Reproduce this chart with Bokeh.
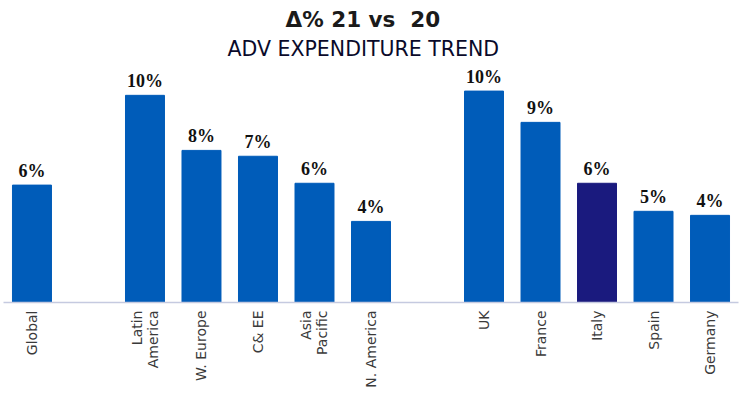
from bokeh.plotting import figure
from bokeh.models import ColumnDataSource, LabelSet, Range1d, FixedTicker, Title
from bokeh.embed import file_html
from bokeh.resources import INLINE

# categories ("" = empty gap slot)
categories = ["Global", "", "Latin\nAmerica", "W. Europe", "C& EE", "Asia\nPacific",
              "N. America", "", "UK", "France", "Italy", "Spain", "Germany"]
values = [5.82, None, 10.27, 7.54, 7.25, 5.91, 4.02, None, 10.48, 8.93, 5.91, 4.52, 4.32]
highlight = "Italy"

BLUE = "#005CB9"
NAVY = "#1A1A7E"

xs, ys, cols, labs = [], [], [], []
for i, (c, v) in enumerate(zip(categories, values)):
    if c == "" or v is None:
        continue
    xs.append(i)
    ys.append(v)
    cols.append(NAVY if c == highlight else BLUE)
    labs.append(f"{v:.0f}%")

src = ColumnDataSource(dict(x=xs, top=ys, color=cols, label=labs))

p = figure(width=745, height=397, output_backend="svg", toolbar_location=None,
           x_range=Range1d(-0.504, 12.504), y_range=Range1d(0, 11.6),
           min_border_left=3, min_border_right=7, min_border_top=68, min_border_bottom=95)

p.vbar(x="x", top="top", width=0.69, color="color", source=src)

labels = LabelSet(x="x", y="top", text="label", source=src, text_align="center",
                  text_baseline="alphabetic", y_offset=8,
                  text_font="Liberation Serif", text_font_style="bold",
                  text_font_size="18px", text_color="#111111")
p.add_layout(labels)

p.add_layout(Title(text="ADV EXPENDITURE TREND", align="left", offset=224,
                   text_font="DejaVu Sans", text_font_style="normal",
                   text_font_size="20.5px", text_color="#0A0A2A", standoff=16,
                   text_line_height=1.0), "above")
p.add_layout(Title(text="Δ% 21 vs\u00a0 20", align="left", offset=282,
                   text_font="DejaVu Sans", text_font_style="bold",
                   text_font_size="21.5px", text_color="#1A1A1A", standoff=-10,
                   text_line_height=1.0), "above")

p.xaxis.ticker = FixedTicker(ticks=xs)
p.xaxis.major_label_overrides = {i: c for i, c in enumerate(categories) if c}
p.xaxis.major_label_orientation = 1.5708
p.xaxis.major_label_text_font = "DejaVu Sans"
p.xaxis.major_label_text_font_size = "14px"
p.xaxis.major_label_text_color = "#3A3A3A"
p.xaxis.major_label_text_line_height = 1.0
p.xaxis.major_label_standoff = 2
p.xaxis.major_tick_line_color = None
p.xaxis.minor_tick_line_color = None
p.xaxis.axis_line_color = "#C5CAE0"
p.xaxis.axis_line_width = 1.5

p.yaxis.visible = False
p.grid.visible = False
p.outline_line_color = None

open("out.html", "w").write(file_html(p, INLINE))
